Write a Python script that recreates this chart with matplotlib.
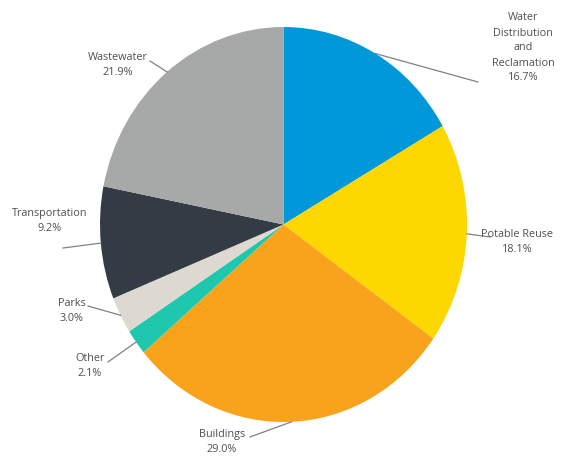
import numpy as np
import matplotlib.pyplot as plt

plt.rcParams['font.family'] = ['Open Sans', 'DejaVu Sans']

labels = ['Water\nDistribution\nand\nReclamation', 'Potable Reuse', 'Buildings',
          'Other', 'Parks', 'Transportation', 'Wastewater']
shares = [16.7, 18.1, 29.0, 2.1, 3.0, 9.2, 21.9]
colors = ['#0098d9', '#fdd700', '#f9a21c', '#1ec7ad', '#ddd9d0', '#333b44', '#a7a9a9']

# label anchor (text centre) and leader end, in image pixels from top-left
text_pos = [(523, 48), (517, 242), (222, 442), (90, 366), (72, 311), (50, 221), (118, 65)]
line_end = [(478, 82), (490, 237), (250, 437), (108, 362), (88, 306), (63, 248), (150, 61)]

W, H = 569, 458
left, top, right, bottom = 100, 27, 467, 422
cx, cy = (left + right) / 2, (top + bottom) / 2
rx, ry = (right - left) / 2, (bottom - top) / 2

fig = plt.figure(figsize=(W / 100, H / 100), dpi=100)
ax = fig.add_axes([left / W, (H - bottom) / H, (right - left) / W, (bottom - top) / H])
wedges, _ = ax.pie(shares, colors=colors, startangle=90, counterclock=False,
                   wedgeprops=dict(linewidth=0))
ax.set_aspect('auto')
ax.set_xlim(-1, 1)
ax.set_ylim(-1, 1)

ov = fig.add_axes([0, 0, 1, 1])
ov.set_xlim(0, W)
ov.set_ylim(H, 0)
ov.axis('off')

for w, lab, val, tp, le in zip(wedges, labels, shares, text_pos, line_end):
    mid = np.deg2rad((w.theta1 + w.theta2) / 2)
    ex = cx + rx * np.cos(mid)
    ey = cy - ry * np.sin(mid)
    ov.plot([ex, le[0]], [ey, le[1]], color='#808080', lw=0.9)
    ov.text(tp[0], tp[1], f'{lab}\n{val:.1f}%', ha='center', va='center',
            fontsize=7.8, color='#505050', linespacing=1.5)

fig.savefig('out.png', dpi=100)
